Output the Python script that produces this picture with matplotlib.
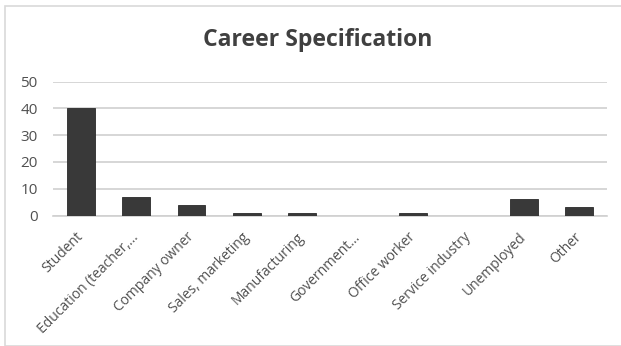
import matplotlib
matplotlib.use("Agg")
import matplotlib.pyplot as plt
from matplotlib.patches import Rectangle

categories = ["Student", "Education (teacher,...", "Company owner", "Sales, marketing",
              "Manufacturing", "Government...", "Office worker", "Service industry",
              "Unemployed", "Other"]
counts = [40, 7, 4, 1, 1, 0, 1, 0, 6, 3]
yticks = [0, 10, 20, 30, 40, 50]

TEXT = "#505050"
BAR = "#393939"
GRID = "#d0d0d0"

plt.rcParams["font.family"] = ["Open Sans", "DejaVu Sans"]

fig = plt.figure(figsize=(6.21, 3.46), dpi=100)
W, H = 621, 346

# outer chart frame, open on the right
fig.patches.append(Rectangle((5 / W, 0.0), 1.0, (H - 6) / H, transform=fig.transFigure,
                             fill=False, edgecolor="#d9d9d9", linewidth=1.2))

ax = fig.add_axes([53 / W, (H - 215.5) / H, (607 - 53) / W, (215.5 - 81.5) / H])
x = range(len(categories))
ax.bar(x, counts, width=0.5, color=BAR, edgecolor="#2a2a2a", linewidth=0.6, zorder=3)
ax.set_xlim(-0.5, len(categories) - 0.5)
ax.set_ylim(0, 50)
ax.set_yticks(yticks)
ax.yaxis.grid(True, color=GRID, linewidth=1.2, zorder=0)
ax.set_axisbelow(True)
for s in ("top", "right", "left"):
    ax.spines[s].set_visible(False)
ax.spines["bottom"].set_color(GRID)
ax.spines["bottom"].set_linewidth(1.2)
ax.tick_params(axis="both", length=0, colors=TEXT)
ax.tick_params(axis="y", pad=11, labelsize=11)
ax.set_xticks(list(x))
ax.set_xticklabels(categories, rotation=45, ha="right", va="center",
                   rotation_mode="anchor", fontsize=10)
ax.tick_params(axis="x", pad=14)

fig.text(318 / W, 1 - 40 / H, "Career Specification", ha="center", va="center",
         fontsize=16.6, fontweight="bold", color="#404040")

fig.savefig("out.png", dpi=100)
